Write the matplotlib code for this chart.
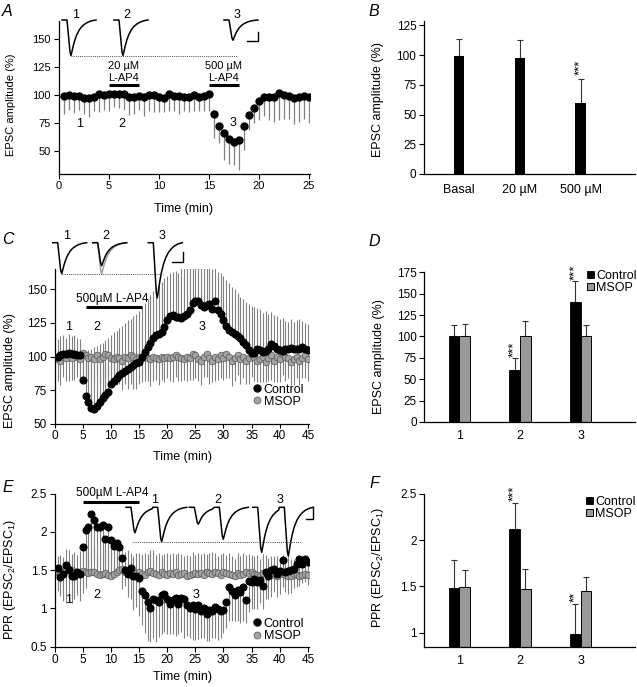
import numpy as np
import matplotlib
matplotlib.use("Agg")
import matplotlib.pyplot as plt
from matplotlib.patches import Patch
from matplotlib.lines import Line2D

plt.rcParams['font.family'] = ['Liberation Sans', 'DejaVu Sans']
plt.rcParams['mathtext.fontset'] = 'custom'
plt.rcParams['mathtext.rm'] = 'Liberation Sans'
plt.rcParams['mathtext.default'] = 'regular'

# ---------------- DATA ----------------
# Panel A: EPSC amplitude time course (control), lower SEM
time_A = np.arange(0.5, 25.01, 0.5)
amp_A = [99, 100, 99, 99, 97, 97, 98, 101, 100, 101,
         101, 101, 101, 98, 98, 99, 98, 100, 100, 98,
         97, 101, 99, 99, 98, 98, 100, 98, 99, 101,
         83, 72, 66, 61, 58, 60, 72, 82, 88, 95,
         98, 98, 98, 102, 100, 99, 97, 98, 99, 98]
err_A = [16, 13, 15, 12, 14, 17, 12, 16, 13, 15,
         12, 13, 14, 16, 15, 12, 17, 14, 15, 13,
         12, 15, 13, 16, 12, 13, 14, 12, 13, 15,
         21, 15, 24, 22, 20, 27, 21, 13, 13, 17,
         17, 20, 22, 24, 21, 20, 23, 22, 20, 23]
lap4_20_A = [5, 8]
lap4_500_A = [15, 18]

# Panel B
cats_B = ['Basal', '20 \u00b5M', '500 \u00b5M']
vals_B = [99, 98, 60]
errs_B = [15, 15, 20]
stars_B = ['', '', '***']

# Panel C: time course, control (upper SEM) and MSOP (lower SEM)
time_C = np.arange(0.5, 45.01, 0.5)
ctrl_C = [100, 101, 102, 102, 103, 102, 102, 101, 101,
          83, 71, 66, 62, 61, 63, 66, 69, 71.5, 74,
          80, 82, 84, 86, 88, 89.6, 90.6, 92, 94, 95,
          96, 100, 103.7, 107, 110, 113.6, 116, 117, 118.5, 122,
          127, 130, 131, 129.7, 129.7, 129, 130, 131.7, 134.7, 139.6,
          141, 141.3, 138.4, 136.6, 138.4, 139, 135, 141, 134.7, 131.7,
          127, 122.8, 120, 118.6, 117, 115, 113.6, 111, 108.7, 105,
          102.5, 103, 106, 105, 103.7, 104.5, 106, 109.4, 108, 106,
          105, 104.5, 105.5, 106, 106.7, 106, 106, 105.7, 107.4, 106, 105]
ctrl_err_C = [13, 14, 14, 12, 14, 13, 14, 13, 12,
              22, 33, 39, 44, 46, 45, 43, 41, 40.5, 40,
              36, 36, 35, 35, 35, 35.4, 36.4, 36, 36, 37,
              38, 37, 36, 36, 36, 35, 36, 37, 37, 36,
              33, 32, 32, 34, 32, 37, 38, 35, 35, 31,
              31, 29, 30, 30, 31, 27, 30, 25, 28, 30,
              33, 34, 35, 33, 33, 32, 31, 32, 32, 34,
              35, 34, 30, 30, 29, 29, 26, 24, 23, 24,
              23, 24, 21, 20, 21, 20, 21, 22, 19, 19, 19]
msop_C = [98, 97, 100, 99, 101, 99, 101, 100, 98, 103,
          101, 99, 100, 98, 101, 98, 100, 102, 101, 99,
          98, 100, 99, 97, 100, 99, 101, 100, 98, 100,
          99, 101, 99, 98, 100, 99, 98, 100, 99, 100,
          99, 100, 101, 100, 99, 98, 100, 99, 102, 101,
          98, 97, 100, 102, 99, 97, 100, 98, 101, 99,
          102, 100, 97, 99, 101, 98, 100, 97, 99, 101,
          100, 97, 98, 100, 96, 99, 101, 97, 100, 98,
          102, 100, 99, 96, 98, 100, 97, 99, 101, 98]
msop_err_C = [16, 18, 15, 17, 19, 16, 18, 15, 17, 20,
              18, 16, 19, 17, 15, 18, 20, 17, 16, 19,
              18, 21, 19, 22, 20, 23, 21, 24, 22, 20,
              18, 19, 17, 20, 18, 16, 19, 17, 18, 16,
              17, 19, 16, 18, 17, 15, 18, 16, 19, 17,
              16, 18, 15, 17, 19, 16, 18, 15, 17, 16,
              18, 16, 19, 17, 15, 18, 16, 17, 19, 16,
              18, 16, 17, 19, 15, 17, 18, 16, 19, 17,
              16, 18, 15, 17, 19, 16, 18, 15, 17, 16]
lap4_C = [5.5, 15.5]

# Panel D
groups = ['1', '2', '3']
ctrl_D = [101, 61, 140]
ctrl_D_err = [12, 14, 25]
msop_D = [101, 100, 100]
msop_D_err = [13, 18, 13]
stars_D = ['', '***', '***']

# Panel E: PPR time course, control (lower SEM), MSOP (upper SEM)
time_E = np.arange(0.5, 45.01, 0.5)
ctrl_E = [1.53, 1.41, 1.45, 1.57, 1.50, 1.42, 1.43, 1.47, 1.45,
          1.80, 2.02, 2.07, 2.24, 2.15, 2.07, 2.07, 2.09, 1.91, 2.07,
          1.89, 1.82, 1.85, 1.80, 1.66, 1.50, 1.45, 1.53, 1.43, 1.42,
          1.40, 1.23, 1.18, 1.08, 1.01, 1.12, 1.11, 1.08, 1.17, 1.19,
          1.12, 1.06, 1.11, 1.14, 1.06, 1.14, 1.12, 1.04, 1.01, 1.04,
          0.99, 1.05, 0.97, 1.01, 0.93, 0.98, 0.97, 1.02, 0.99, 0.97,
          0.98, 1.09, 1.28, 1.23, 1.18, 1.24, 1.21, 1.28, 1.11, 1.36,
          1.34, 1.39, 1.34, 1.37, 1.29, 1.47, 1.43, 1.50, 1.52, 1.45,
          1.49, 1.63, 1.47, 1.49, 1.50, 1.52, 1.58, 1.64, 1.58, 1.65, 1.61]
ctrl_err_E = [0.3, 0.25, 0.35, 0.5, 0.4, 0.35, 0.3, 0.3, 0.35,
              0.6, 0.75, 0.6, 0.65, 0.5, 0.55, 0.45, 0.55, 0.35, 0.5,
              0.4, 0.35, 0.4, 0.3, 0.4, 0.2, 0.3, 0.4, 0.45, 0.4,
              0.5, 0.45, 0.5, 0.5, 0.45, 0.5, 0.55, 0.45, 0.5, 0.5,
              0.45, 0.4, 0.45, 0.5, 0.4, 0.45, 0.5, 0.4, 0.4, 0.45,
              0.4, 0.45, 0.35, 0.4, 0.35, 0.4, 0.35, 0.4, 0.4, 0.35,
              0.3, 0.35, 0.45, 0.4, 0.35, 0.4, 0.4, 0.45, 0.3, 0.4,
              0.35, 0.4, 0.35, 0.3, 0.3, 0.35, 0.3, 0.35, 0.3, 0.3,
              0.3, 0.35, 0.25, 0.3, 0.3, 0.25, 0.3, 0.35, 0.25, 0.3, 0.3]
msop_E = [1.47, 1.45, 1.47, 1.50, 1.52, 1.50, 1.48, 1.47, 1.48, 1.49,
          1.48, 1.46, 1.47, 1.48, 1.45, 1.44, 1.45, 1.46, 1.44, 1.43,
          1.45, 1.47, 1.50, 1.51, 1.48, 1.46, 1.45, 1.44, 1.46, 1.48,
          1.45, 1.44, 1.47, 1.49, 1.46, 1.45, 1.44, 1.47, 1.45, 1.44,
          1.46, 1.45, 1.47, 1.44, 1.45, 1.46, 1.43, 1.44, 1.45, 1.46,
          1.45, 1.46, 1.44, 1.47, 1.46, 1.45, 1.48, 1.46, 1.44, 1.47,
          1.46, 1.45, 1.44, 1.43, 1.46, 1.44, 1.45, 1.47, 1.46, 1.48,
          1.45, 1.44, 1.43, 1.46, 1.47, 1.45, 1.44, 1.46, 1.43, 1.45,
          1.47, 1.44, 1.43, 1.42, 1.45, 1.44, 1.43, 1.44, 1.45, 1.44]
msop_err_E = [0.22, 0.25, 0.2, 0.28, 0.24, 0.21, 0.26, 0.23, 0.27, 0.25,
              0.3, 0.28, 0.26, 0.31, 0.27, 0.29, 0.32, 0.3, 0.28, 0.33,
              0.3, 0.27, 0.25, 0.29, 0.26, 0.3, 0.28, 0.24, 0.27, 0.25,
              0.26, 0.29, 0.24, 0.27, 0.3, 0.25, 0.28, 0.23, 0.26, 0.29,
              0.25, 0.27, 0.24, 0.28, 0.26, 0.23, 0.27, 0.25, 0.29, 0.24,
              0.27, 0.25, 0.28, 0.24, 0.26, 0.29, 0.25, 0.23, 0.27, 0.25,
              0.24, 0.27, 0.25, 0.22, 0.26, 0.24, 0.27, 0.23, 0.25, 0.22,
              0.24, 0.26, 0.22, 0.25, 0.23, 0.21, 0.24, 0.22, 0.25, 0.2,
              0.23, 0.21, 0.24, 0.22, 0.2, 0.23, 0.21, 0.22, 0.19, 0.2]
lap4_E = [5, 15]

# Panel F
ctrl_F = [1.48, 2.12, 0.99]
ctrl_F_err = [0.31, 0.28, 0.32]
msop_F = [1.49, 1.47, 1.45]
msop_F_err = [0.19, 0.22, 0.15]
stars_F = ['', '***', '**']

# Example EPSC trace shape (normalised) and relative amplitudes
shape_dx = [0, 5, 6.5, 8, 9, 10, 11.5, 13, 15, 17.5, 20, 23, 26, 30, 34]
shape_dy = [0, 0, -0.45, -0.9, -1.0, -0.88, -0.7, -0.55, -0.40, -0.27,
            -0.18, -0.11, -0.06, -0.02, 0]
rel_amp_A = [1.0, 1.0, 0.57]
rel_amp_C = [1.0, 0.74, 1.78]
rel_amp_E = [[0.74, 1.0], [0.49, 0.93], [1.31, 1.42]]

# ---------------- LAYOUT ----------------
W, H = 637, 687
fig = plt.figure(figsize=(W / 100, H / 100), dpi=100)
ERR = '#808080'
GRAY = '#a3a3a3'
TICK = 8.5
LAB = 9


def axes_px(left, top, right, bottom):
    ax = fig.add_axes([left / W, 1 - bottom / H, (right - left) / W, (bottom - top) / H])
    for s in ('top', 'right'):
        ax.spines[s].set_visible(False)
    for s in ('left', 'bottom'):
        ax.spines[s].set_linewidth(0.9)
    ax.tick_params(direction='out', length=3.5, width=0.8, labelsize=TICK, pad=2)
    return ax


def ftext(x, y, s, **kw):
    fig.text(x / W, 1 - y / H, s, **kw)


def panel_letter(x, y, s):
    ftext(x, y, s, fontsize=11.5, style='italic', ha='center', va='center')


# ---- A ----
axA = axes_px(58.7, 20.7, 310, 173.7)
amp_A_arr = np.array(amp_A)
axA.vlines(time_A, amp_A_arr - np.array(err_A), amp_A_arr, color=ERR, lw=0.9, zorder=1)
axA.plot(time_A, amp_A, 'o', color='k', ms=5, zorder=3)
axA.set_xlim(0, 25.1)
axA.set_ylim(30, 166)
axA.set_xticks(range(0, 26, 5))
axA.set_yticks(range(50, 151, 25))
axA.tick_params(labelsize=8)
axA.plot(lap4_20_A, [108.6, 108.6], color='k', lw=2.2, solid_capstyle='butt')
axA.plot(lap4_500_A, [108.6, 108.6], color='k', lw=2.2, solid_capstyle='butt')
axA.text(np.mean(lap4_20_A), 125.4, '20 \u00b5M', ha='center', va='center', fontsize=8)
axA.text(np.mean(lap4_20_A), 114.8, 'L-AP4', ha='center', va='center', fontsize=8)
axA.text(np.mean(lap4_500_A), 125.4, '500 \u00b5M', ha='center', va='center', fontsize=8)
axA.text(np.mean(lap4_500_A), 114.8, 'L-AP4', ha='center', va='center', fontsize=8)
for lbl, (tx, ty) in zip(['1', '2', '3'], [(2.1, 74), (6.3, 74), (17.4, 75)]):
    axA.text(tx, ty, lbl, ha='center', va='center', fontsize=9)
ftext(10.7, 105, 'EPSC amplitude (%)', rotation=90, ha='center', va='center', fontsize=8)
ftext(183.5, 209, 'Time (min)', ha='center', va='center', fontsize=LAB)
panel_letter(7.5, 11, 'A')

# ---- B ----
axB = axes_px(424, 20.7, 635, 174)
xB = np.arange(len(cats_B))
axB.bar(xB, vals_B, width=0.17, color='k', zorder=2)
axB.errorbar(xB, vals_B, yerr=[np.zeros(3), errs_B], fmt='none', ecolor='#333333',
             elinewidth=0.8, capsize=2.5, capthick=0.8, zorder=1)
for x, v, e, s in zip(xB, vals_B, errs_B, stars_B):
    if s:
        axB.text(x, v + e + 3, s, rotation=90, ha='center', va='bottom', fontsize=9.5)
axB.set_xlim(-0.576, 2.897)
axB.set_ylim(0, 129)
axB.set_yticks(range(0, 126, 25))
axB.set_xticks(xB)
axB.set_xticklabels(cats_B)
axB.tick_params(axis='x', length=0, pad=7, labelsize=9)
ftext(378, 100, 'EPSC amplitude (%)', rotation=90, ha='center', va='center', fontsize=LAB)
panel_letter(374, 11, 'B')

# ---- C ----
axC = axes_px(54.7, 269.3, 309, 424)
ctrl_C_arr = np.array(ctrl_C)
msop_C_arr = np.array(msop_C)
axC.vlines(time_C, ctrl_C_arr, ctrl_C_arr + np.array(ctrl_err_C), color=ERR, lw=0.8, zorder=1)
axC.vlines(time_C, msop_C_arr - np.array(msop_err_C), msop_C_arr, color=ERR, lw=0.8, zorder=1)
axC.plot(time_C, msop_C, 'o', mfc=GRAY, mec='#555555', mew=0.5, ms=4.8, ls='none', zorder=2)
axC.plot(time_C, ctrl_C, 'o', color='k', ms=4.8, ls='none', zorder=3)
axC.set_xlim(0, 45.2)
axC.set_ylim(50, 164.8)
axC.set_xticks(range(0, 46, 5))
axC.set_yticks(range(50, 151, 25))
axC.tick_params(axis='x', length=3, pad=1)
axC.plot(lap4_C, [137, 137], color='k', lw=2.2, solid_capstyle='butt')
axC.text(10.3, 142.8, '500\u00b5M L-AP4', ha='center', va='center', fontsize=8.5)
for lbl, (tx, ty) in zip(['1', '2', '3'], [(2.4, 121.8), (7.4, 121.8), (26.1, 122)]):
    axC.text(tx, ty, lbl, ha='center', va='center', fontsize=9)
hC = [Line2D([], [], marker='o', color='k', ls='none', ms=5),
      Line2D([], [], marker='o', mfc=GRAY, mec='#555555', mew=0.5, ls='none', ms=5)]
axC.legend(hC, ['Control', 'MSOP'], loc='upper left', bbox_to_anchor=(0.78, 0.26),
           frameon=False, handlelength=0.6, handletextpad=0.25, labelspacing=0.0,
           borderpad=0, borderaxespad=0, fontsize=9)
ftext(10, 371, 'EPSC amplitude (%)', rotation=90, ha='center', va='center', fontsize=LAB)
ftext(182.5, 457, 'Time (min)', ha='center', va='center', fontsize=LAB)
panel_letter(7.5, 239, 'C')

# ---- D ----
axD = axes_px(424.3, 272.3, 635, 422)
xD = np.arange(len(groups))
bw = 0.176
axD.bar(xD - bw / 2, ctrl_D, width=bw, color='k', edgecolor='k', lw=0.6, zorder=2)
axD.bar(xD + bw / 2, msop_D, width=bw, color='#999999', edgecolor='k', lw=0.7, zorder=2)
axD.errorbar(xD - bw / 2, ctrl_D, yerr=[np.zeros(3), ctrl_D_err], fmt='none', ecolor='#333333',
             elinewidth=0.8, capsize=2.2, capthick=0.8, zorder=1)
axD.errorbar(xD + bw / 2, msop_D, yerr=[np.zeros(3), msop_D_err], fmt='none', ecolor='#333333',
             elinewidth=0.8, capsize=2.2, capthick=0.8, zorder=1)
for x, v, e, s in zip(xD - bw / 2, ctrl_D, ctrl_D_err, stars_D):
    if s:
        axD.text(x, v + e + 1, s, rotation=90, ha='center', va='bottom', fontsize=9.5, clip_on=False)
axD.set_xlim(-0.576, 2.897)
axD.set_ylim(0, 175)
axD.set_yticks(range(0, 176, 25))
axD.set_xticks(xD)
axD.set_xticklabels(groups)
axD.tick_params(axis='x', length=0, pad=6, labelsize=9)
hD = [Patch(fc='k', ec='k', lw=0.6), Patch(fc='#999999', ec='k', lw=0.7)]
axD.legend(hD, ['Control', 'MSOP'], loc='upper left', bbox_to_anchor=(0.771, 1.017),
           frameon=False, handlelength=0.55, handleheight=0.55, handletextpad=0.2,
           labelspacing=0.0, borderpad=0, borderaxespad=0, fontsize=9)
ftext(379, 356.7, 'EPSC amplitude (%)', rotation=90, ha='center', va='center', fontsize=LAB)
panel_letter(374, 242, 'D')

# ---- E ----
axE = axes_px(54.7, 493.7, 309, 646.7)
ctrl_E_arr = np.array(ctrl_E)
msop_E_arr = np.array(msop_E)
axE.vlines(time_E, ctrl_E_arr - np.array(ctrl_err_E), ctrl_E_arr, color=ERR, lw=0.8, zorder=1)
axE.vlines(time_E, msop_E_arr, msop_E_arr + np.array(msop_err_E), color=ERR, lw=0.8, zorder=1)
axE.plot(time_E, msop_E, 'o', mfc=GRAY, mec='#555555', mew=0.5, ms=4.8, ls='none', zorder=2)
axE.plot(time_E, ctrl_E, 'o', color='k', ms=4.8, ls='none', zorder=3)
axE.set_xlim(0, 45.2)
axE.set_ylim(0.5, 2.5)
axE.set_xticks(range(0, 46, 5))
axE.set_yticks([0.5, 1, 1.5, 2, 2.5])
axE.set_yticklabels(['0.5', '1', '1.5', '2', '2.5'])
axE.plot(lap4_E, [2.395, 2.395], color='k', lw=2.2, solid_capstyle='butt', clip_on=False)
axE.text(10.3, 2.51, '500\u00b5M L-AP4', ha='center', va='center', fontsize=8.5)
for lbl, (tx, ty) in zip(['1', '2', '3'], [(2.4, 1.11), (7.4, 1.17), (25.2, 1.17)]):
    axE.text(tx, ty, lbl, ha='center', va='center', fontsize=9)
axE.legend(hC, ['Control', 'MSOP'], loc='upper left', bbox_to_anchor=(0.78, 0.19),
           frameon=False, handlelength=0.6, handletextpad=0.25, labelspacing=0.05,
           borderpad=0, borderaxespad=0, fontsize=9)
ftext(10, 580, 'PPR (EPSC$_2$/EPSC$_1$)', rotation=90, ha='center', va='center', fontsize=LAB)
ftext(182.5, 677, 'Time (min)', ha='center', va='center', fontsize=LAB)
panel_letter(7.5, 487, 'E')

# ---- F ----
axF = axes_px(424.3, 493.7, 635, 646.7)
axF.bar(xD - bw / 2, ctrl_F, width=bw, color='k', edgecolor='k', lw=0.6, zorder=2)
axF.bar(xD + bw / 2, msop_F, width=bw, color='#999999', edgecolor='k', lw=0.7, zorder=2)
axF.errorbar(xD - bw / 2, ctrl_F, yerr=[np.zeros(3), ctrl_F_err], fmt='none', ecolor='#333333',
             elinewidth=0.8, capsize=2.2, capthick=0.8, zorder=1)
axF.errorbar(xD + bw / 2, msop_F, yerr=[np.zeros(3), msop_F_err], fmt='none', ecolor='#333333',
             elinewidth=0.8, capsize=2.2, capthick=0.8, zorder=1)
for x, v, e, s in zip(xD - bw / 2, ctrl_F, ctrl_F_err, stars_F):
    if s:
        axF.text(x, v + e + 0.02, s, rotation=90, ha='center', va='bottom', fontsize=9.5, clip_on=False)
axF.set_xlim(-0.576, 2.897)
axF.set_ylim(0.85, 2.5)
axF.set_yticks([1, 1.5, 2, 2.5])
axF.set_yticklabels(['1', '1.5', '2', '2.5'])
axF.set_xticks(xD)
axF.set_xticklabels(groups)
axF.tick_params(axis='x', length=0, pad=6, labelsize=9)
axF.legend(hD, ['Control', 'MSOP'], loc='upper left', bbox_to_anchor=(0.767, 0.987),
           frameon=False, handlelength=0.55, handleheight=0.55, handletextpad=0.2,
           labelspacing=0.0, borderpad=0, borderaxespad=0, fontsize=9)
ftext(378, 568, 'PPR (EPSC$_2$/EPSC$_1$)', rotation=90, ha='center', va='center', fontsize=LAB)
panel_letter(374.5, 484, 'F')

# ---- example traces overlay (pixel coordinates) ----
ov = fig.add_axes([0, 0, 1, 1])
ov.set_xlim(0, W)
ov.set_ylim(H, 0)
ov.axis('off')


def draw_trace(x0, y0, offsets, amps, color='k', lw=1.1):
    xs, ys = [], []
    for k, (off, amp) in enumerate(zip(offsets, amps)):
        nxt = offsets[k + 1] if k + 1 < len(offsets) else None
        for dx, dy in zip(shape_dx, shape_dy):
            if nxt is not None and off + dx >= nxt:
                break
            xs.append(x0 + off + dx)
            ys.append(y0 - dy * amp)
    ov.plot(xs, ys, color=color, lw=lw, solid_joinstyle='round')


def scale_bar(x, y, w, h):
    ov.plot([x - w, x, x], [y, y, y - h], color='k', lw=1.0)


# A traces
sA = 35.5
for x0, r in zip([62, 114, 224], rel_amp_A):
    draw_trace(x0, 20, [0], [r * sA])
ov.plot([71, 238], [20 + sA, 20 + sA], ls=(0, (1, 1.2)), color='#444444', lw=0.7)
scale_bar(258, 40.7, 11, 9)
for lbl, x in zip(['1', '2', '3'], [76, 127, 237]):
    ov.text(x, 15, lbl, ha='center', va='center', fontsize=9)

# C traces
sC = 31
draw_trace(52.7, 242.7, [0], [rel_amp_C[0] * sC])
draw_trace(92.7, 242.7, [0], [rel_amp_C[0] * sC], color='#a0a0a0')
draw_trace(92.7, 242.7, [0], [rel_amp_C[1] * sC])
draw_trace(148.3, 242.7, [0], [rel_amp_C[2] * sC])
ov.plot([61.7, 162.7], [242.7 + sC, 242.7 + sC], ls=(0, (1, 1.2)), color='#444444', lw=0.7)
scale_bar(182.7, 261.7, 11, 10)
for lbl, x in zip(['1', '2', '3'], [66.7, 106, 161.7]):
    ov.text(x, 236, lbl, ha='center', va='center', fontsize=9)

# E traces (paired pulses)
sE = 34.4
for x0, off2, r in zip([126, 189.3, 252.7], [26.7, 25, 26.6], rel_amp_E):
    draw_trace(x0, 507.3, [0, off2], [r[0] * sE, r[1] * sE])
ov.plot([132.7, 301.7], [507.3 + sE, 507.3 + sE], ls=(0, (1, 1.2)), color='#444444', lw=0.7)
scale_bar(313.3, 519.3, 7.3, 11)
for lbl, x in zip(['1', '2', '3'], [155, 218, 280]):
    ov.text(x, 500, lbl, ha='center', va='center', fontsize=9)

fig.savefig('out.png', dpi=100)
